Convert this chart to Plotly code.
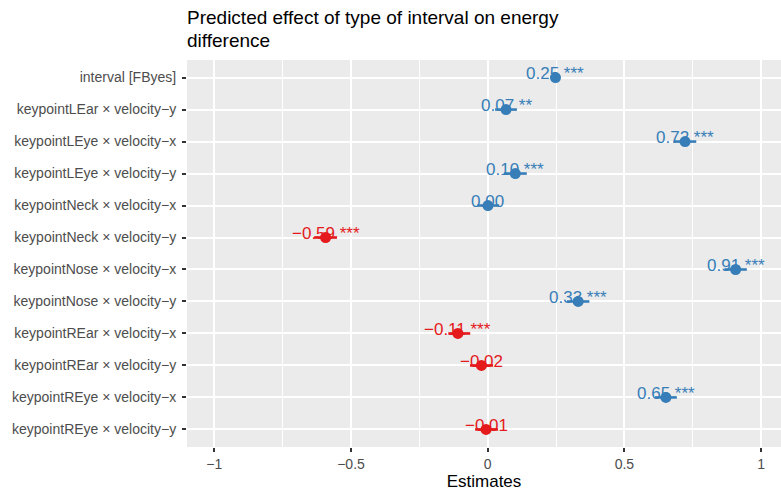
import plotly.graph_objects as go

# ---- data ----
terms = [
    "interval [FByes]",
    "keypointLEar × velocity−y",
    "keypointLEye × velocity−x",
    "keypointLEye × velocity−y",
    "keypointNeck × velocity−x",
    "keypointNeck × velocity−y",
    "keypointNose × velocity−x",
    "keypointNose × velocity−y",
    "keypointREar × velocity−x",
    "keypointREar × velocity−y",
    "keypointREye × velocity−x",
    "keypointREye × velocity−y",
]
estimates = [0.248, 0.067, 0.722, 0.101, 0.001, -0.593, 0.907, 0.331, -0.109, -0.023, 0.652, -0.006]
ci_low = [0.235, 0.027, 0.680, 0.059, -0.038, -0.635, 0.866, 0.290, -0.144, -0.065, 0.612, -0.046]
ci_high = [0.262, 0.107, 0.763, 0.143, 0.042, -0.551, 0.948, 0.372, -0.064, 0.020, 0.692, 0.038]
stars = ["***", "**", "***", "***", "", "***", "***", "***", "***", "", "***", ""]

x_tickvals = [-1, -0.5, 0, 0.5, 1]
x_ticktext = ["−1", "−0.5", "0", "0.5", "1"]

title_lines = ["Predicted effect of type of interval on energy", "difference"]
x_title = "Estimates"

BLUE = "#377EB8"
RED = "#E41A1C"
FONT = "Liberation Sans, Arial, sans-serif"

fig = go.Figure()

for positive, color in [(True, BLUE), (False, RED)]:
    idx = [i for i, e in enumerate(estimates) if (e >= 0) == positive]
    fig.add_trace(go.Scatter(
        x=[estimates[i] for i in idx],
        y=[terms[i] for i in idx],
        mode="markers",
        marker=dict(color=color, size=11, line=dict(width=0)),
        error_x=dict(
            type="data", symmetric=False,
            array=[ci_high[i] - estimates[i] for i in idx],
            arrayminus=[estimates[i] - ci_low[i] for i in idx],
            color=color, thickness=2.6, width=0,
        ),
        showlegend=False,
        hoverinfo="skip",
    ))

annotations = []
for t, e, s in zip(terms, estimates, stars):
    label = f"{e:.2f}".replace("-", "−")
    if s:
        label += " " + s
    annotations.append(dict(
        x=e, y=t, xref="x", yref="y", text=label, showarrow=False,
        xanchor="center", yanchor="middle", yshift=4,
        font=dict(family=FONT, size=17, color=BLUE if e >= 0 else RED),
    ))

# chart title (two lines, ggplot-like line spacing)
for k, line in enumerate(title_lines):
    annotations.append(dict(
        x=0, y=1, xref="paper", yref="paper", text=line, showarrow=False,
        xanchor="left", yanchor="bottom", xshift=-2,
        yshift=7 + 23 * (len(title_lines) - 1 - k),
        font=dict(family=FONT, size=19, color="black"),
    ))

fig.update_layout(
    width=781, height=492,
    margin=dict(l=187, r=0, t=60, b=45),
    paper_bgcolor="white",
    plot_bgcolor="#EBEBEB",
    font=dict(family=FONT, color="#4D4D4D"),
    annotations=annotations,
    xaxis=dict(
        range=[-1.1, 1.073],
        tickvals=x_tickvals, ticktext=x_ticktext,
        showgrid=True, gridcolor="white", gridwidth=2,
        minor=dict(dtick=0.25, tick0=0, showgrid=True, gridcolor="white", gridwidth=1),
        zeroline=False, showline=False,
        ticks="outside", ticklen=4, tickwidth=1.5, tickcolor="#333333",
        tickfont=dict(family=FONT, size=14, color="#4D4D4D"),
        title=dict(text=x_title, font=dict(family=FONT, size=17, color="black"), standoff=4),
    ),
    yaxis=dict(
        type="category", categoryorder="array", categoryarray=terms,
        range=[11.55, -0.55],
        showgrid=True, gridcolor="white", gridwidth=2,
        zeroline=False, showline=False,
        ticks="outside", ticklen=4, tickwidth=1.5, tickcolor="#333333",
        ticklabelstandoff=3,
        tickfont=dict(family=FONT, size=14, color="#4D4D4D"),
    ),
)

fig.write_html("out.html")
